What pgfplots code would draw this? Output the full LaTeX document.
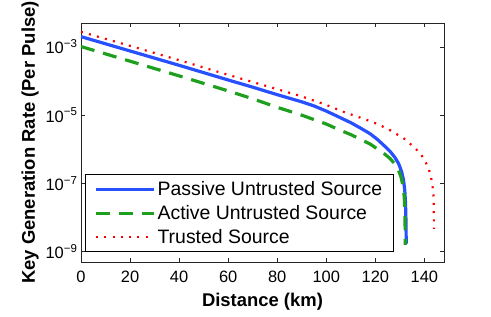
\documentclass[border=0pt]{standalone}
\usepackage{fontspec}
\setmainfont{Liberation Sans}
\usepackage{pgfplots}
\pgfplotsset{compat=1.18}
\definecolor{pblue}{RGB}{40,80,255}
\definecolor{agreen}{RGB}{30,160,30}
\definecolor{tred}{RGB}{255,0,0}
\begin{document}
\begin{tikzpicture}
\useasboundingbox (-81bp,-55bp) rectangle (410bp,262bp);
\begin{axis}[
  at={(0,0)}, anchor=south west,
  scale only axis, width=363bp, height=239bp,
  xmin=0, xmax=148,
  ymode=log, ymin=5e-10, ymax=5e-3,
  xtick={0,20,40,60,80,100,120,140},
  ytick={1e-3,1e-5,1e-7,1e-9},
  yticklabels={10\textsuperscript{−3},10\textsuperscript{−5},10\textsuperscript{−7},10\textsuperscript{−9}},
  yminorticks=false,
  tick align=inside,
  major tick length=4bp,
  axis line style={line width=0.8pt, black!85},
  every tick/.style={black!85, line width=0.6pt},
  tick label style={font=\fontsize{16.5}{16.5}\selectfont},
  xticklabel style={yshift=-5bp},
  /pgf/number format/assume math mode=true,
  xlabel={\bfseries Distance (km)},
  ylabel={\bfseries Key Generation Rate (Per Pulse)},
  label style={font=\fontsize{18.5}{18.5}\selectfont},
  xlabel style={yshift=-4bp},
  legend style={at={(0.011,0.042)}, anchor=south west, draw=black, line width=0.8pt,
    font=\fontsize{19.5}{19.5}\selectfont, inner xsep=9bp, inner ysep=4.5bp, row sep=4.5bp},
  legend cell align=left,
  legend image code/.code={\draw[#1] (0bp,0bp) -- (58bp,0bp);},
]
\addplot[pblue, line width=3.2bp] coordinates {
(0,1.995e-3) (20,7.586e-4) (40,2.884e-4) (60,1.072e-4) (70,6.607e-5) (80,3.981e-5)
(90,2.455e-5) (95,1.862e-5) (100,1.318e-5) (105,8.913e-6) (110,6.026e-6) (114,4.169e-6)
(118,2.818e-6) (121,1.905e-6) (124,1.202e-6) (126,8.710e-7) (128,5.754e-7)
(129.5,3.802e-7) (130.7,2.239e-7) (131.5,1.259e-7) (132,6.310e-8) (132.3,2.818e-8)
(132.5,7.943e-9) (132.6,1.738e-9)};
\addlegendentry{Passive Untrusted Source}
\addplot[agreen, line width=3.2bp, dash pattern=on 14bp off 9bp] coordinates {
(0,1.023e-3) (20,3.802e-4) (40,1.413e-4) (60,5.129e-5) (70,3.020e-5) (80,1.698e-5)
(90,1.000e-5) (95,7.413e-6) (100,5.495e-6) (105,3.802e-6) (110,2.692e-6) (114,1.950e-6)
(118,1.413e-6) (121,1.000e-6) (124,7.079e-7) (126,5.370e-7) (128,3.715e-7)
(129.5,2.399e-7) (130.5,1.514e-7) (131.3,8.318e-8) (131.8,3.981e-8) (132.1,1.259e-8)
(132.2,1.585e-9)};
\addlegendentry{Active Untrusted Source}
\addplot[tred, line width=2.2bp, dash pattern=on 2bp off 6.3bp] coordinates {
(0,2.754e-3) (20,1.072e-3) (40,4.074e-4) (60,1.514e-4) (80,5.754e-5) (90,3.548e-5)
(100,1.995e-5) (108,1.175e-5) (115,7.943e-6) (121,5.495e-6) (126,3.631e-6)
(131.6,2.089e-6) (136.3,1.072e-6) (138.8,6.761e-7) (140.4,4.365e-7) (141.8,2.630e-7)
(142.7,1.549e-7) (143.3,8.511e-8) (143.7,4.786e-8) (143.85,1.585e-8) (143.9,4.677e-9)};
\addlegendentry{Trusted Source}
\end{axis}
\end{tikzpicture}
\end{document}
